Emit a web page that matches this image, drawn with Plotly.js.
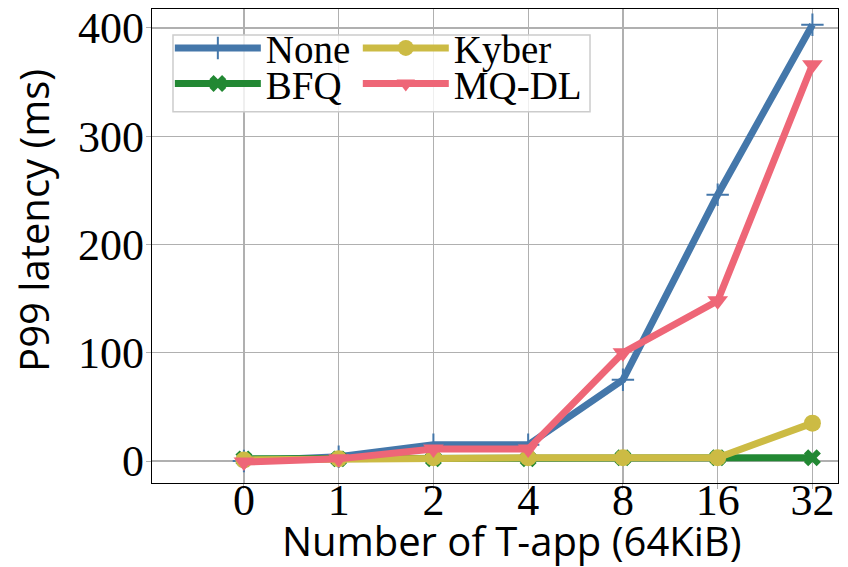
<!DOCTYPE html>
<html>
<head>
<meta charset="utf-8">
<script src="https://cdn.plot.ly/plotly-3.0.1.min.js"></script>
<style>html,body{margin:0;padding:0;background:#fff;}#chart{width:848px;height:567px;}</style>
</head>
<body>
<div id="chart"></div>
<script>
var categories = ["0", "1", "2", "4", "8", "16", "32"];
var noneVals  = [0, 4, 15, 15, 75, 246, 403];
var bfqVals   = [2, 2, 2, 2, 3, 3, 3];
var kyberVals = [1, 2, 3, 3, 3, 3, 35];
var mqdlVals  = [-1, 2, 11, 11, 100, 148, 366];
var yTicks = [0, 100, 200, 300, 400];
var xIdx = categories.map(function(_, i){ return i; });

function tr(name, y, color, symbol, msize, legend, mline) {
  return {
    x: xIdx, y: y, name: name, type: 'scatter', mode: 'lines+markers',
    line: {color: color, width: 7},
    marker: {color: color, symbol: symbol, size: msize, line: mline || {width: 0}},
    legend: legend
  };
}

var data = [
  tr('None', noneVals, '#4477AA', 'cross-thin', 16, 'legend', {width: 2, color: '#4477AA'}),
  tr('BFQ', bfqVals, '#228833', 'x', 15, 'legend2'),
  tr('Kyber', kyberVals, '#CCBB44', 'circle', 17, 'legend3'),
  tr('MQ-DL', mqdlVals, '#EE6677', 'triangle-down', 18, 'legend4')
];

function leg(x, y) {
  return {
    x: x, y: y, bgcolor: 'rgba(0,0,0,0)', borderwidth: 0, itemwidth: 86,
    font: {family: 'Liberation Serif, Times New Roman, serif', size: 39, color: '#000'},
    yanchor: 'top', xanchor: 'left'
  };
}

var serif = 'Liberation Serif, Times New Roman, serif';
var sans = 'Open Sans, Noto Sans, sans-serif';

var layout = {
  width: 848, height: 567,
  margin: {l: 152, r: 10, t: 9, b: 84},
  paper_bgcolor: '#fff', plot_bgcolor: '#fff',
  showlegend: true,
  xaxis: {
    range: [-0.97, 6.27], tickvals: xIdx, ticktext: categories,
    showgrid: true, gridcolor: '#b0b0b0', gridwidth: 1.3, zeroline: false,
    showline: true, linecolor: '#000', linewidth: 1.3, mirror: true,
    ticks: 'outside', ticklen: 5, tickcolor: '#b0b0b0', ticklabelstandoff: -27,
    tickfont: {family: serif, size: 44, color: '#000'}
  },
  yaxis: {
    range: [-20.3, 417.5], tickvals: yTicks,
    showgrid: true, gridcolor: '#b0b0b0', gridwidth: 1.3, zeroline: false,
    showline: true, linecolor: '#000', linewidth: 1.3, mirror: true,
    ticks: 'outside', ticklen: 5, tickcolor: '#b0b0b0', ticklabelstandoff: -7,
    tickfont: {family: serif, size: 44, color: '#000'}
  },
  legend: leg(0.026, 0.985),
  legend2: leg(0.026, 0.91),
  legend3: leg(0.30, 0.985),
  legend4: leg(0.30, 0.91),
  annotations: [
    {text: 'Number of T-app (64KiB)', xref: 'paper', yref: 'paper', x: 0.525, y: -0.122,
     xanchor: 'center', yanchor: 'middle', showarrow: false,
     font: {family: sans, size: 40, color: '#000'}},
    {text: 'P99 latency (ms)', xref: 'paper', yref: 'paper', x: -0.172, y: 0.553,
     xanchor: 'center', yanchor: 'middle', showarrow: false, textangle: -90,
     font: {family: sans, size: 40, color: '#000'}}
  ],
  shapes: [{
    type: 'rect', xref: 'paper', yref: 'paper', layer: 'above',
    x0: 0.0306, x1: 0.6385, y0: 0.783, y1: 0.945,
    fillcolor: 'rgba(255,255,255,0.8)', line: {color: '#cccccc', width: 1.5}
  }]
};

Plotly.newPlot('chart', data, layout, {staticPlot: true, displayModeBar: false});
</script>
</body>
</html>
